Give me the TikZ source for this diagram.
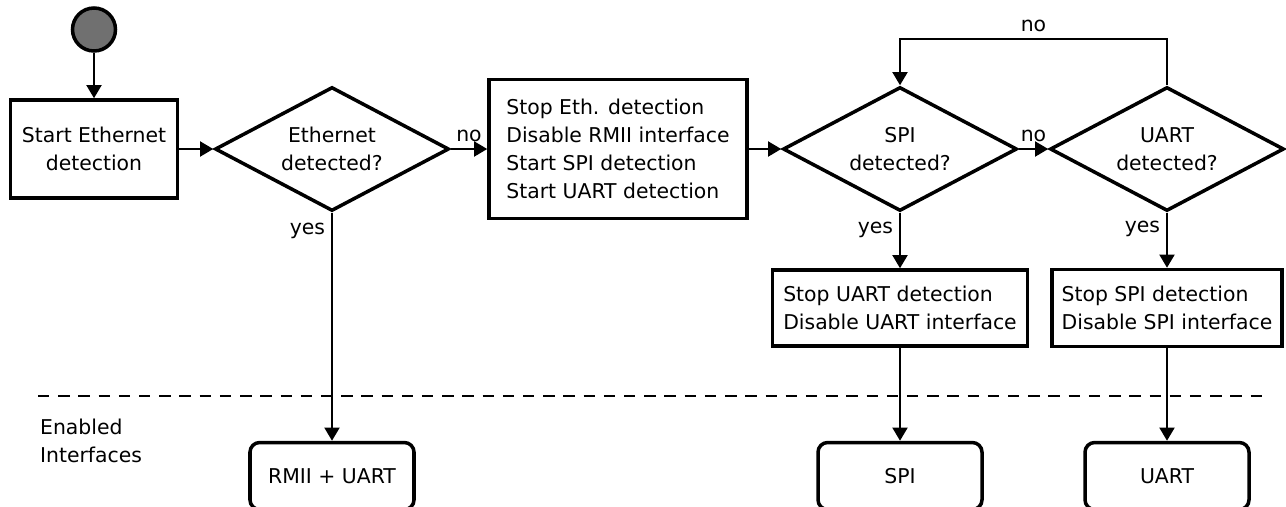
\documentclass[tikz,border=0pt]{standalone}
\usepackage{fontspec}
\setmainfont{DejaVu Sans}
\usetikzlibrary{shapes.geometric,arrows.meta}
\definecolor{startgray}{HTML}{707070}

\begin{document}
\begin{tikzpicture}[-,>={Triangle[length=7.5pt,width=8.5pt]},line width=1.3pt,auto,
    font=\fontsize{11.6}{15.9}\selectfont,
    process/.style={draw,line width=2pt,inner sep=0pt},
    decision/.style={diamond,aspect=1.88,draw,line width=2pt,inner sep=0pt,align=center,minimum width=4.68cm,minimum height=2.48cm},
    iface/.style={draw,line width=2pt,rounded corners=5.5pt,minimum width=3.28cm,minimum height=1.34cm},
    init node/.style={circle,draw,line width=2pt,fill=startgray,minimum size=0.86cm,inner sep=0pt}]
    \useasboundingbox (0,0) rectangle (25.72,-10.12);

    \node[process,align=center,minimum width=3.34cm,minimum height=1.96cm] (start) at (1.88,-2.98) {Start Ethernet\\detection};
    \node[init node] (init) [above of=start,node distance=2.39cm] {};
    \node[decision] (ethdec) [right of=start,node distance=4.76cm] {Ethernet\\detected?};
    \node[process,align=left,minimum width=5.16cm,minimum height=2.78cm] (stopeth) [right of=ethdec,node distance=5.72cm] {Stop Eth. detection\\Disable RMII interface\\Start SPI detection\\Start UART detection};
    \node[decision] (spidec) [right of=stopeth,node distance=5.64cm] {SPI\\detected?};
    \node[decision] (uartdec) [right of=spidec,node distance=5.34cm] {UART\\detected?};
    \node[process,align=left,minimum width=5.1cm,minimum height=1.52cm] (stopuart) [below of=spidec,node distance=3.18cm] {Stop UART detection\\Disable UART interface};
    \node[process,align=left,minimum width=4.6cm,minimum height=1.54cm] (stopspi) [below of=uartdec,node distance=3.18cm] {Stop SPI detection\\Disable SPI interface};
    \node[iface] (rmii) [below of=ethdec,node distance=6.54cm] {RMII + UART};
    \node[iface] (spi) [below of=stopuart,node distance=3.36cm] {SPI};
    \node[iface] (uart) [below of=stopspi,node distance=3.36cm] {UART};

    % enabled interfaces row
    \coordinate (sepleft) at (0.76,-7.92);
    \coordinate (sepright) at (25.26,-7.92);
    \draw[dash pattern=on 6.5pt off 5pt] (sepleft) -- (sepright);
    \node[align=left,anchor=west,inner sep=0pt] (enabled) at (0.78,-8.82) {Enabled\\Interfaces};

    \path[->]
        (init) edge (start)
        (start) edge (ethdec)
        (ethdec) edge node {no} (stopeth)
        (ethdec) edge node[swap,pos=0.08] {yes} (rmii)
        (stopeth) edge (spidec)
        (spidec) edge node {no} (uartdec)
        (spidec) edge node[swap,pos=0.3] {yes} (stopuart)
        (uartdec) edge node[swap,pos=0.3] {yes} (stopspi)
        (stopuart) edge (spi)
        (stopspi) edge (uart)
        ;
    \draw[->] (uartdec.north) -- ++(0,0.92) -| node[pos=0.25,above] {no} (spidec.north);
\end{tikzpicture}
\end{document}
